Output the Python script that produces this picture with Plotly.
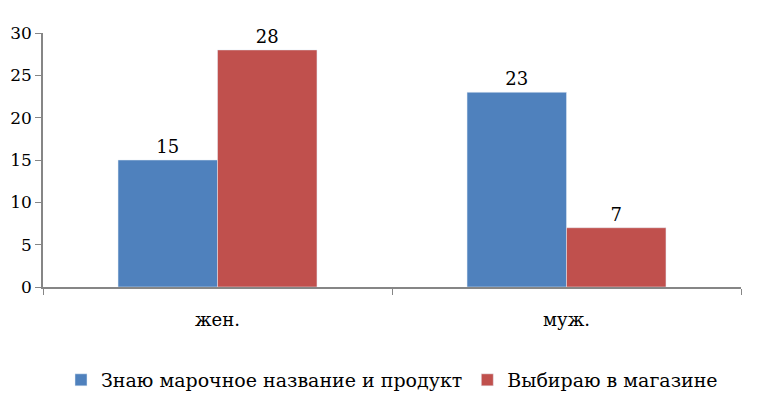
import plotly.graph_objects as go

categories = ["жен.", "муж."]
know_brand = [15, 23]
choose_in_store = [28, 7]
series_names = ["Знаю марочное название и продукт", "Выбираю в магазине"]

# no Times-like font in the sandbox, DejaVu Serif is the closest serif
font_family = "DejaVu Serif, Liberation Sans, sans-serif"

fig = go.Figure()
fig.add_trace(go.Bar(x=categories, y=know_brand, name=series_names[0],
                     marker_color="#4F81BD", text=know_brand,
                     textposition="outside", cliponaxis=False,
                     textfont=dict(family=font_family, size=18, color="black")))
fig.add_trace(go.Bar(x=categories, y=choose_in_store, name=series_names[1],
                     marker_color="#C0504D", text=choose_in_store,
                     textposition="outside", cliponaxis=False,
                     textfont=dict(family=font_family, size=18, color="black")))

# the page has the browser's default 8px body margin, so shift margins accordingly
fig.update_layout(
    width=775, height=411,
    margin=dict(l=35, r=42, t=25, b=132, autoexpand=False),
    barmode="group", bargap=0.43, bargroupgap=0,
    plot_bgcolor="white", paper_bgcolor="white",
    font=dict(family=font_family, size=17, color="black"),
    showlegend=True,
    legend=dict(orientation="h", x=0.5, xanchor="center", y=-0.366, yanchor="middle",
                font=dict(family=font_family, size=19), traceorder="normal",
                itemwidth=30),
)
fig.update_xaxes(showline=True, linecolor="#868686", linewidth=1.5,
                 ticks="outside", tickson="boundaries", ticklen=6, tickcolor="#868686",
                 ticklabelstandoff=16, tickfont=dict(family=font_family, size=18),
                 automargin=False)
fig.update_yaxes(range=[0, 30], dtick=5, showline=True, linecolor="#868686", linewidth=1.5,
                 ticks="outside", ticklen=6, tickcolor="#868686", showgrid=False,
                 zeroline=False, tickfont=dict(family=font_family, size=17),
                 automargin=False)

fig.write_html("out.html")
